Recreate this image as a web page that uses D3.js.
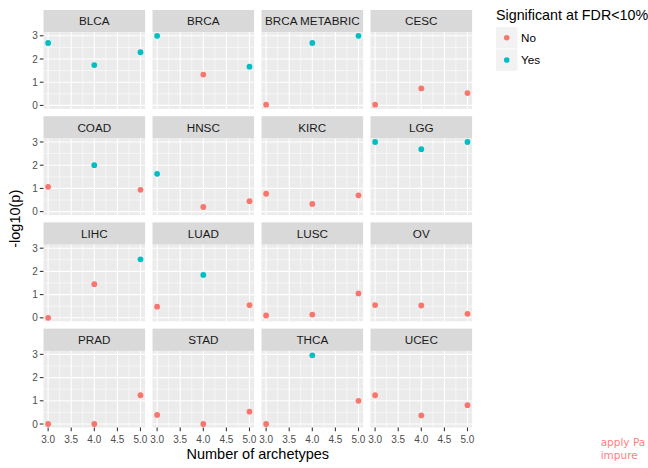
<!DOCTYPE html>
<html>
<head>
<meta charset="utf-8">
<script src="https://cdn.jsdelivr.net/npm/d3@7"></script>
<style>
  html, body { margin: 0; padding: 0; background: #fff; }
  svg { display: block; font-family: "Liberation Sans", Arial, sans-serif; }
</style>
</head>
<body>
<svg id="chart" width="648" height="468"></svg>
<script>
// ---- data ----
const cancers = ["BLCA","BRCA","BRCA METABRIC","CESC","COAD","HNSC","KIRC","LGG",
                 "LIHC","LUAD","LUSC","OV","PRAD","STAD","THCA","UCEC"];
const archetypes = [3, 4, 5];
const logp = [
  [2.69, 1.74, 2.29],
  [3.00, 1.33, 1.67],
  [0.03, 2.69, 3.00],
  [0.03, 0.73, 0.53],
  [1.07, 2.00, 0.94],
  [1.63, 0.20, 0.45],
  [0.77, 0.33, 0.70],
  [3.00, 2.69, 3.00],
  [0.00, 1.45, 2.52],
  [0.48, 1.85, 0.55],
  [0.10, 0.14, 1.05],
  [0.55, 0.53, 0.17],
  [0.00, 0.00, 1.24],
  [0.39, 0.00, 0.53],
  [0.00, 2.96, 1.00],
  [1.24, 0.37, 0.81]
];
const significant = [
  ["Yes","Yes","Yes"],
  ["Yes","No","Yes"],
  ["No","Yes","Yes"],
  ["No","No","No"],
  ["No","Yes","No"],
  ["Yes","No","No"],
  ["No","No","No"],
  ["Yes","Yes","Yes"],
  ["No","No","Yes"],
  ["No","Yes","No"],
  ["No","No","No"],
  ["No","No","No"],
  ["No","No","No"],
  ["No","No","No"],
  ["No","Yes","No"],
  ["No","No","No"]
];
const legendLevels = ["No", "Yes"];
const xTicks = [3.0, 3.5, 4.0, 4.5, 5.0];
const xMinor = [3.25, 3.75, 4.25, 4.75];
const yTicks = [0, 1, 2, 3];
const yMinor = [0.5, 1.5, 2.5];

// ---- layout ----
const svg = d3.select("#chart");
svg.append("rect").attr("width", 648).attr("height", 468).attr("fill", "#fff");

const nCol = 4;
const left0 = 43.5, colPitch = 109, panelW = 101.6;
const top0 = 10, stripH = 22.3, panelH = 76.6, rowPitch = 106.2;

const color = d3.scaleOrdinal().domain(legendLevels).range(["#F8766D", "#00BFC4"]);

const xExt = d3.extent(archetypes);
const xPad = (xExt[1] - xExt[0]) * 0.05;
const x = d3.scaleLinear().domain([xExt[0] - xPad, xExt[1] + xPad]).range([0, panelW]);
const allY = logp.flat();
const yExt = [0, d3.max(allY)];
const yPad = (yExt[1] - yExt[0]) * 0.05;
const y = d3.scaleLinear().domain([yExt[0] - yPad, yExt[1] + yPad]).range([panelH, 0]);

const nRow = Math.ceil(cancers.length / nCol);

cancers.forEach((name, i) => {
  const c = i % nCol, r = Math.floor(i / nCol);
  const px = left0 + c * colPitch;
  const sy = top0 + r * rowPitch;
  const py = sy + stripH;

  // strip
  svg.append("rect").attr("x", px).attr("y", sy).attr("width", panelW).attr("height", stripH)
    .attr("fill", "#D9D9D9");
  svg.append("text").attr("x", px + panelW / 2).attr("y", sy + stripH / 2 + 4.2)
    .attr("text-anchor", "middle").attr("font-size", 11.7).attr("fill", "#1A1A1A").text(name);

  const g = svg.append("g").attr("transform", `translate(${px},${py})`);
  g.append("rect").attr("width", panelW).attr("height", panelH).attr("fill", "#EBEBEB");

  // minor grid
  xMinor.forEach(v => g.append("line").attr("x1", x(v)).attr("x2", x(v)).attr("y1", 0).attr("y2", panelH)
    .attr("stroke", "#fff").attr("stroke-width", 0.55));
  yMinor.forEach(v => g.append("line").attr("y1", y(v)).attr("y2", y(v)).attr("x1", 0).attr("x2", panelW)
    .attr("stroke", "#fff").attr("stroke-width", 0.55));
  // major grid
  xTicks.forEach(v => g.append("line").attr("x1", x(v)).attr("x2", x(v)).attr("y1", 0).attr("y2", panelH)
    .attr("stroke", "#fff").attr("stroke-width", 1.1));
  yTicks.forEach(v => g.append("line").attr("y1", y(v)).attr("y2", y(v)).attr("x1", 0).attr("x2", panelW)
    .attr("stroke", "#fff").attr("stroke-width", 1.1));

  // points
  g.selectAll("circle.pt").data(archetypes.map((a, j) => ({a, v: logp[i][j], s: significant[i][j]})))
    .enter().append("circle").attr("class", "pt")
    .attr("cx", d => x(d.a)).attr("cy", d => y(d.v)).attr("r", 2.9)
    .attr("fill", d => color(d.s));

  // y axis on first column
  if (c === 0) {
    yTicks.forEach(v => {
      g.append("line").attr("x1", -3.7).attr("x2", 0).attr("y1", y(v)).attr("y2", y(v))
        .attr("stroke", "#333").attr("stroke-width", 1.07);
      g.append("text").attr("x", -5.8).attr("y", y(v) + 3.6).attr("text-anchor", "end")
        .attr("font-size", 10).attr("fill", "#4D4D4D").text(d3.format("d")(v));
    });
  }
  // x axis on last row
  if (r === nRow - 1) {
    xTicks.forEach(v => {
      g.append("line").attr("x1", x(v)).attr("x2", x(v)).attr("y1", panelH).attr("y2", panelH + 3.7)
        .attr("stroke", "#333").attr("stroke-width", 1.07);
      g.append("text").attr("x", x(v)).attr("y", panelH + 15.4).attr("text-anchor", "middle")
        .attr("font-size", 10).attr("fill", "#4D4D4D").text(d3.format(".1f")(v));
    });
  }
});

// axis titles
const plotL = left0, plotR = left0 + (nCol - 1) * colPitch + panelW;
const plotT = top0, plotB = top0 + (nRow - 1) * rowPitch + stripH + panelH;
svg.append("text").attr("x", (plotL + plotR) / 2).attr("y", 458.5).attr("text-anchor", "middle")
  .attr("font-size", 14.5).attr("fill", "#000").text("Number of archetypes");
svg.append("text").attr("transform", `translate(20,${(plotT + plotB) / 2}) rotate(-90)`)
  .attr("text-anchor", "middle").attr("font-size", 14.5).attr("fill", "#000").text("-log10(p)");

// legend
const lx = 496;
svg.append("text").attr("x", lx).attr("y", 20).attr("font-size", 14.3).attr("fill", "#000")
  .text("Significant at FDR<10%");
legendLevels.forEach((lv, k) => {
  const ky = 27 + k * 22.3;
  svg.append("rect").attr("x", lx).attr("y", ky).attr("width", 21.5).attr("height", 21.5)
    .attr("fill", "#F2F2F2");
  svg.append("circle").attr("cx", lx + 10.75).attr("cy", ky + 10.75).attr("r", 2.8).attr("fill", color(lv));
  svg.append("text").attr("x", lx + 25).attr("y", ky + 15).attr("font-size", 11.7).attr("fill", "#000").text(lv);
});

// stray annotation text at bottom right
svg.append("text").attr("x", 600.7).attr("y", 446).attr("font-family", "DejaVu Sans")
  .attr("font-size", 10.5).attr("fill", "#FF7F7F").text("apply Pa");
svg.append("text").attr("x", 600.7).attr("y", 458.8).attr("font-family", "DejaVu Sans")
  .attr("font-size", 10.5).attr("fill", "#FF7F7F").text("impure");
</script>
</body>
</html>
